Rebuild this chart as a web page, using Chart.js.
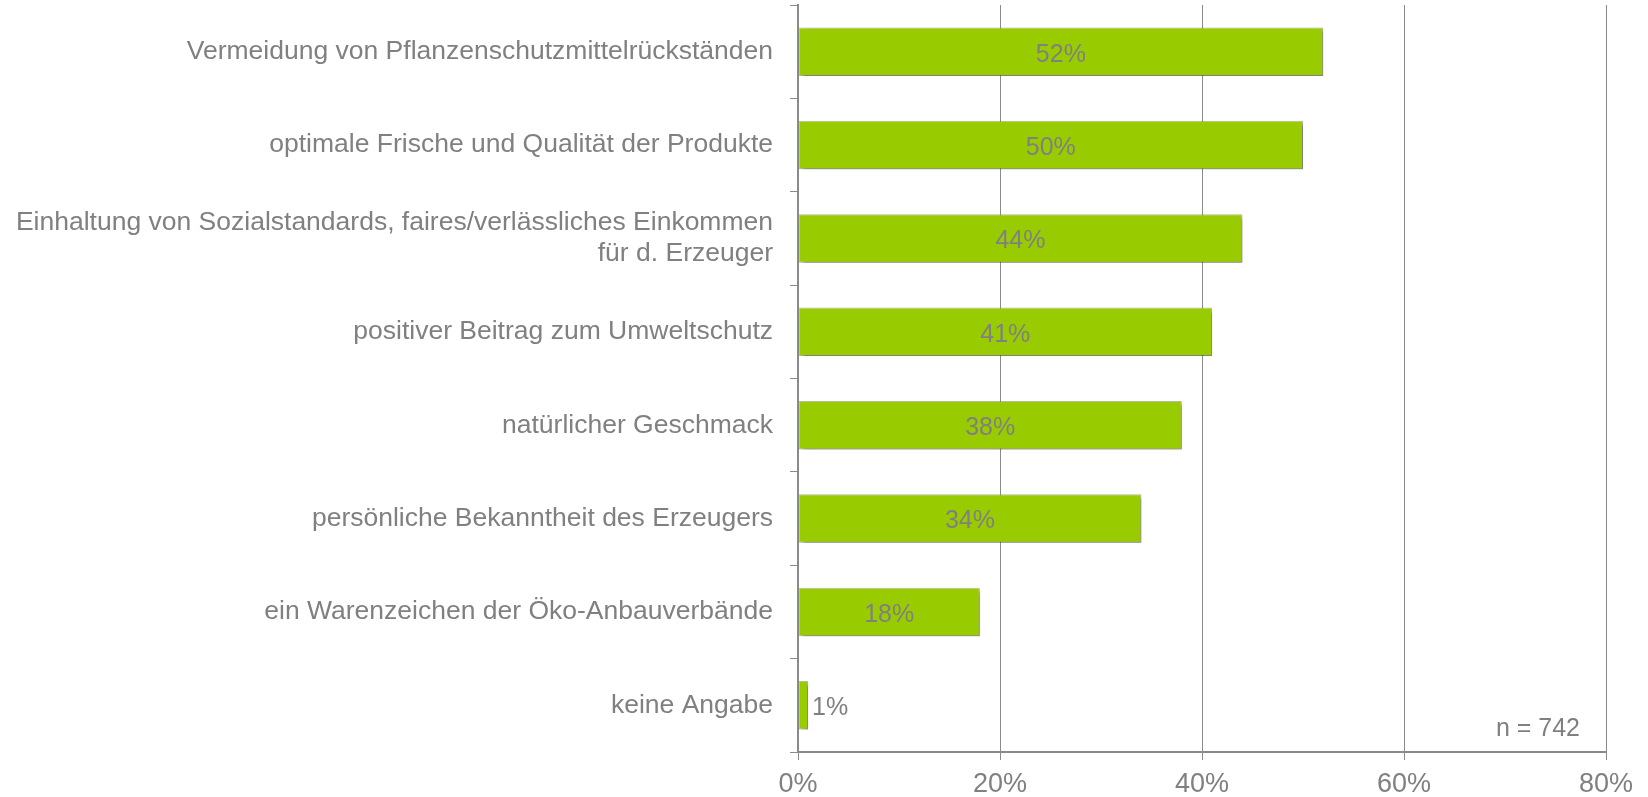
<!DOCTYPE html>
<html lang="de">
<head>
<meta charset="utf-8">
<title>Gründe für Bio-Produkte</title>
<script src="https://cdn.jsdelivr.net/npm/chart.js@4/dist/chart.umd.min.js"></script>
<style>
    html, body { margin: 0; padding: 0; background: #fff; }
    #wrap { width: 1648px; height: 797px; }
</style>
</head>
<body>
<div id="wrap"><canvas id="chartGruende"></canvas></div>
<script>
// Daten aus der Vorlage
const categories = [
    'Vermeidung von Pflanzenschutzmittelrückständen',
    'optimale Frische und Qualität der Produkte',
    ['Einhaltung von Sozialstandards, faires/verlässliches Einkommen', 'für d. Erzeuger'],
    'positiver Beitrag zum Umweltschutz',
    'natürlicher Geschmack',
    'persönliche Bekanntheit des Erzeugers',
    'ein Warenzeichen der Öko-Anbauverbände',
    'keine Angabe'
];
const values = [52, 50, 44, 41, 38, 34, 18, 1];
const xTicks = [0, 20, 40, 60, 80];
const sampleNote = 'n = 742';

const FONT = "'Liberation Sans', Arial, sans-serif";
const GREY_TEXT = '#808080';
const GREY_LINE = '#8a8a8a';

// Schatten unter den Balken
const barShadow = {
    id: 'barShadow',
    beforeDatasetsDraw(chart) {
        const ctx = chart.ctx;
        ctx.save();
        ctx.shadowColor = 'rgba(0, 0, 0, 0.35)';
        ctx.shadowOffsetX = 3;
        ctx.shadowOffsetY = 3;
        ctx.shadowBlur = 4;
    },
    afterDatasetsDraw(chart) {
        chart.ctx.restore();
    }
};

// Prozentwerte in bzw. neben den Balken, dazu n = 742
const valueLabels = {
    id: 'valueLabels',
    afterDraw(chart) {
        const ctx = chart.ctx;
        const meta = chart.getDatasetMeta(0);
        ctx.save();
        ctx.font = `25px ${FONT}`;
        ctx.fillStyle = GREY_TEXT;
        ctx.textBaseline = 'middle';
        meta.data.forEach((bar, i) => {
            const text = values[i] + '%';
            const w = bar.x - bar.base;
            if (w > ctx.measureText(text).width + 10) {
                ctx.textAlign = 'center';
                ctx.fillText(text, bar.base + w / 2, bar.y + 3);
            } else {
                ctx.textAlign = 'left';
                ctx.fillText(text, bar.x + 4, bar.y + 3);
            }
        });
        const area = chart.chartArea;
        ctx.textAlign = 'right';
        ctx.fillText(sampleNote, area.right - 26, area.bottom - 23);
        ctx.restore();
    }
};

const ctx = document.getElementById('chartGruende');
new Chart(ctx, {
    type: 'bar',
    data: {
        labels: categories,
        datasets: [{
            data: values,
            backgroundColor: '#99cc00',
            borderColor: 'rgba(120, 140, 90, 0.55)',
            borderWidth: 1,
            borderSkipped: false,
            barPercentage: 0.52,
            categoryPercentage: 1
        }]
    },
    options: {
        indexAxis: 'y',
        responsive: true,
        maintainAspectRatio: false,
        animation: false,
        layout: { padding: { top: 5, right: 42, left: 0, bottom: 0 } },
        plugins: {
            legend: { display: false },
            tooltip: { enabled: false }
        },
        scales: {
            x: {
                min: 0,
                max: 80,
                afterBuildTicks: (scale) => {
                    scale.ticks = xTicks.map(v => ({ value: v }));
                },
                afterFit: (scale) => {
                    scale.height = 45;
                    scale.paddingRight = 0;
                },
                grid: {
                    color: GREY_LINE,
                    lineWidth: 1,
                    drawTicks: true,
                    tickLength: 8,
                    tickColor: GREY_LINE
                },
                border: { display: true, color: GREY_LINE, width: 2 },
                ticks: {
                    padding: 8,
                    color: GREY_TEXT,
                    font: { family: FONT, size: 27 },
                    callback: (v) => v + '%'
                }
            },
            y: {
                offset: true,
                afterFit: (scale) => {
                    scale.width = 798;
                    scale.paddingTop = 0;
                    scale.paddingBottom = 0;
                },
                grid: {
                    offset: true,
                    drawOnChartArea: false,
                    drawTicks: true,
                    tickLength: 8,
                    color: GREY_LINE
                },
                border: { display: true, color: GREY_LINE, width: 2 },
                ticks: {
                    padding: 17,
                    color: GREY_TEXT,
                    font: { family: FONT, size: 26.5, lineHeight: 1.17 }
                }
            }
        }
    },
    plugins: [barShadow, valueLabels]
});
</script>
</body>
</html>
